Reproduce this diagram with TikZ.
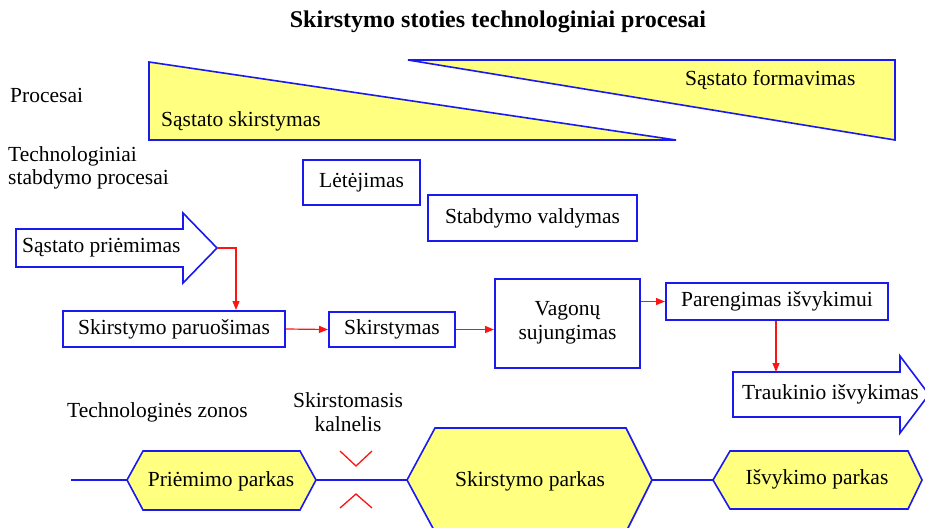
\documentclass[tikz,border=0pt]{standalone}
\usepackage{fontspec}
\setmainfont{Liberation Serif}
\usetikzlibrary{arrows.meta}
\definecolor{lineblue}{RGB}{25,25,240}
\definecolor{paleyellow}{RGB}{255,255,128}
\definecolor{flowred}{RGB}{255,20,20}
\begin{document}
\begin{tikzpicture}[x=1pt,y=-1pt,
  txt/.style={font=\fontsize{21.5}{23.5}\selectfont, inner sep=0pt},
  lbl/.style={txt, anchor=west},
  proc/.style={draw=lineblue, line width=2pt, fill=white, txt},
  band/.style={draw=lineblue, line width=1.6pt, fill=paleyellow},
  bigarrow/.style={draw=lineblue, line width=1.6pt, fill=white},
  flow/.style={draw=flowred, line width=1.2pt, -{Triangle[length=9pt,width=7pt]}},
  link/.style={draw=lineblue, line width=1.6pt},
  humpmark/.style={draw=flowred, line width=1.3pt},
]
\useasboundingbox (0,0) rectangle (925,527);

% title
\node[font=\bfseries\fontsize{24}{28}\selectfont, inner sep=0pt] (title) at (498,22)
  {Skirstymo stoties technologiniai procesai};

% row labels
\node[lbl] (procesai) at (10,95) {Procesai};
\node[lbl, align=left] (stabdymas) at (8,168) {Technologiniai\\stabdymo procesai};
\node[lbl] (zonos) at (67,412) {Technologinės zonos};

% process bands
\filldraw[band] (149,62) -- (149,140) -- (676,140) -- cycle;
\node[lbl] (skirstymasband) at (161,121) {Sąstato skirstymas};
\filldraw[band] (408,60) -- (895,60) -- (895,140) -- cycle;
\node[lbl] (formavimas) at (685,80) {Sąstato formavimas};

% braking boxes
\node[proc, minimum width=117, minimum height=45] (letejimas) at (361.5,182.5) {Lėtėjimas};
\node[proc, minimum width=209, minimum height=46] (valdymas) at (532.5,218) {Stabdymo valdymas};

% arrival arrow
\filldraw[bigarrow] (16,229) -- (183,229) -- (183,213) -- (217,248)
  -- (183,283) -- (183,267) -- (16,267) -- cycle;
\coordinate (pritip) at (217,248);
\node[lbl] (priemimas) at (22,248) {Sąstato priėmimas};

% departure arrow
\filldraw[bigarrow] (733,372) -- (900,372) -- (900,356) -- (929,394.5)
  -- (900,433) -- (900,417) -- (733,417) -- cycle;
\coordinate (trtop) at (776,372);
\node[lbl] (isvykimas) at (742,394.5) {Traukinio išvykimas};

% process chain
\node[proc, minimum width=222, minimum height=36] (paruosimas) at (174,329) {Skirstymo paruošimas};
\node[proc, minimum width=126, minimum height=35] (skirstymas) at (392,329.5) {Skirstymas};
\node[proc, minimum width=145, minimum height=89, align=center] (sujungimas) at (567.5,323)
  {Vagonų\\sujungimas};
\node[proc, minimum width=222, minimum height=37] (parengimas) at (777,301.5) {Parengimas išvykimui};

\draw[flow] (pritip) -| ([xshift=62pt]paruosimas.north);
\draw[flow] (paruosimas.east) -- (skirstymas.west);
\draw[flow] (skirstymas.east) -- (skirstymas.east -| sujungimas.west);
\draw[flow] (sujungimas.east |- parengimas.west) -- (parengimas.west);
\draw[flow] ([xshift=-1pt]parengimas.south) -- ([xshift=-1pt]parengimas.south |- trtop);

% technological zones
\coordinate (linestart) at (71,480);
\coordinate (pAin) at (127,480);  \coordinate (pAout) at (316,480);
\coordinate (pBin) at (407,480);  \coordinate (pBout) at (652,480);
\coordinate (pCin) at (713,480);  \coordinate (pCout) at (922,480);

\filldraw[band] (pAin) -- (143,451) -- (300,451) -- (pAout) -- (300,510) -- (143,510) -- cycle;
\filldraw[band] (pBin) -- (435,428) -- (626,428) -- (pBout) -- (626,532) -- (435,532) -- cycle;
\filldraw[band] (pCin) -- (730,451) -- (908,451) -- (pCout) -- (908,509) -- (730,509) -- cycle;

\draw[link] (linestart) -- (pAin);
\draw[link] (pAout) -- (pBin);
\draw[link] (pBout) -- (pCin);

\node[txt] (priemimopark) at (221,481) {Priėmimo parkas};
\node[txt] (skirstymopark) at (530,481) {Skirstymo parkas};
\node[txt] (isvykimopark) at (817,479) {Išvykimo parkas};

% hump marks
\draw[humpmark] (340,451) -- (356,466) -- (372,451);
\draw[humpmark] (340,508) -- (356,494) -- (372,508);
\node[txt, align=center] (kalnelis) at (348,412) {Skirstomasis\\kalnelis};

\end{tikzpicture}
\end{document}
